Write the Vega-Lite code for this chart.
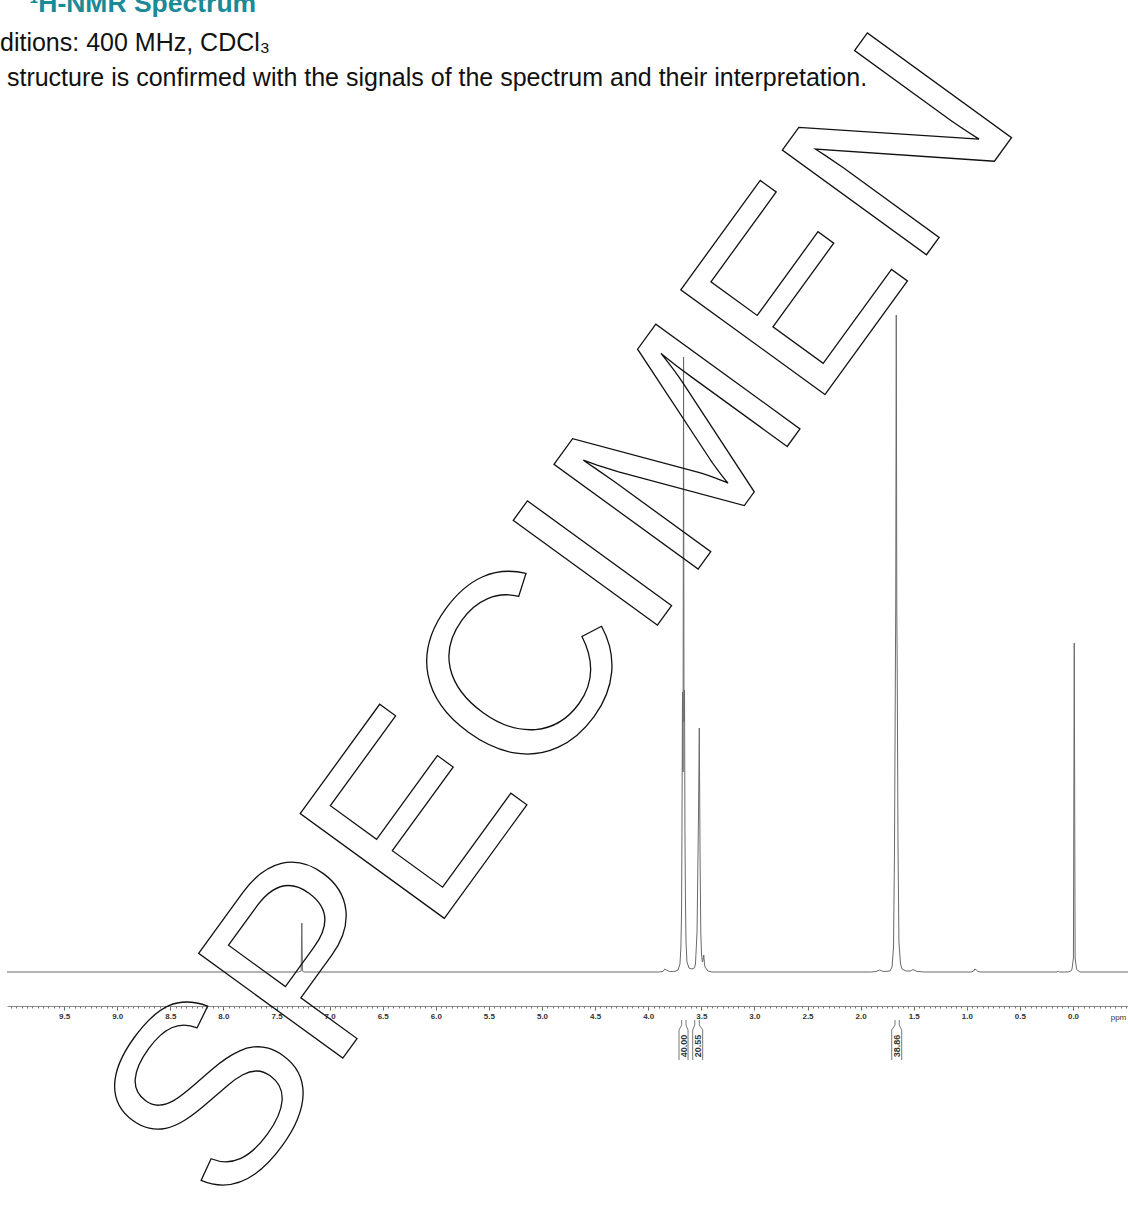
{
  "$schema": "https://vega.github.io/schema/vega-lite/v6.json",
  "autosize": {"type": "none"},
  "padding": {"left": 7, "top": 0, "right": 0, "bottom": 0},
  "width": 1121,
  "height": 1207,
  "background": "white",
  "config": {"view": {"stroke": null}, "font": "Liberation Sans"},
  "title": {
    "text": "\u200b\u00a0\u00a0\u00a0\u00a0¹H-NMR Spectrum",
    "subtitle": ["ditions: 400 MHz, CDCl₃", "\u200b\u00a0structure is confirmed with the signals of the spectrum and their interpretation."],
    "anchor": "start",
    "frame": "group",
    "dx": -7,
    "offset": -91,
    "fontSize": 26.5,
    "fontWeight": "bold",
    "color": "#1a8a96",
    "font": "Liberation Sans",
    "subtitleFontSize": 25,
    "subtitleColor": "#111111",
    "subtitleFont": "Liberation Sans",
    "subtitleLineHeight": 35,
    "subtitlePadding": 14
  },
  "datasets": {
    "spectrum": [
      {"ppm": 10.038, "intensity": 0}, {"ppm": 7.29, "intensity": 0}, {"ppm": 7.268, "intensity": 1}, {"ppm": 7.262, "intensity": 49}, {"ppm": 7.256, "intensity": 1}, {"ppm": 7.24, "intensity": 0},
      {"ppm": 3.9, "intensity": 0}, {"ppm": 3.86, "intensity": 0.5}, {"ppm": 3.845, "intensity": 3}, {"ppm": 3.83, "intensity": 2}, {"ppm": 3.8, "intensity": 0.5}, {"ppm": 3.76, "intensity": 0.5},
      {"ppm": 3.738, "intensity": 1}, {"ppm": 3.719, "intensity": 2}, {"ppm": 3.701, "intensity": 8}, {"ppm": 3.692, "intensity": 25}, {"ppm": 3.686, "intensity": 60}, {"ppm": 3.682, "intensity": 145},
      {"ppm": 3.677, "intensity": 280}, {"ppm": 3.672, "intensity": 200}, {"ppm": 3.667, "intensity": 615}, {"ppm": 3.663, "intensity": 250}, {"ppm": 3.658, "intensity": 282}, {"ppm": 3.654, "intensity": 140},
      {"ppm": 3.649, "intensity": 70}, {"ppm": 3.644, "intensity": 30}, {"ppm": 3.635, "intensity": 10}, {"ppm": 3.616, "intensity": 4}, {"ppm": 3.588, "intensity": 3}, {"ppm": 3.565, "intensity": 4},
      {"ppm": 3.555, "intensity": 8}, {"ppm": 3.54, "intensity": 40}, {"ppm": 3.526, "intensity": 160}, {"ppm": 3.519, "intensity": 244}, {"ppm": 3.512, "intensity": 120}, {"ppm": 3.505, "intensity": 40},
      {"ppm": 3.498, "intensity": 18}, {"ppm": 3.49, "intensity": 10}, {"ppm": 3.484, "intensity": 12}, {"ppm": 3.477, "intensity": 17}, {"ppm": 3.47, "intensity": 8}, {"ppm": 3.465, "intensity": 5},
      {"ppm": 3.437, "intensity": 1}, {"ppm": 3.399, "intensity": 0},
      {"ppm": 1.9, "intensity": 0}, {"ppm": 1.855, "intensity": 0.5}, {"ppm": 1.82, "intensity": 2}, {"ppm": 1.8, "intensity": 1}, {"ppm": 1.78, "intensity": 0.5}, {"ppm": 1.723, "intensity": 1},
      {"ppm": 1.704, "intensity": 5}, {"ppm": 1.69, "intensity": 25}, {"ppm": 1.681, "intensity": 120}, {"ppm": 1.673, "intensity": 290}, {"ppm": 1.669, "intensity": 372}, {"ppm": 1.664, "intensity": 657},
      {"ppm": 1.659, "intensity": 360}, {"ppm": 1.655, "intensity": 300}, {"ppm": 1.648, "intensity": 130}, {"ppm": 1.639, "intensity": 30}, {"ppm": 1.624, "intensity": 8}, {"ppm": 1.61, "intensity": 3},
      {"ppm": 1.572, "intensity": 1}, {"ppm": 1.53, "intensity": 1}, {"ppm": 1.507, "intensity": 2.5}, {"ppm": 1.469, "intensity": 0.5}, {"ppm": 1.394, "intensity": 0},
      {"ppm": 0.96, "intensity": 0}, {"ppm": 0.935, "intensity": 1}, {"ppm": 0.925, "intensity": 3}, {"ppm": 0.91, "intensity": 2}, {"ppm": 0.895, "intensity": 0.5}, {"ppm": 0.87, "intensity": 0},
      {"ppm": 0.15, "intensity": 0}, {"ppm": 0.14, "intensity": 1}, {"ppm": 0.13, "intensity": 0}, {"ppm": 0.047, "intensity": 0}, {"ppm": 0.02, "intensity": 1}, {"ppm": 0.009, "intensity": 3},
      {"ppm": -0.004, "intensity": 14}, {"ppm": -0.012, "intensity": 329}, {"ppm": -0.02, "intensity": 14}, {"ppm": -0.033, "intensity": 3}, {"ppm": -0.05, "intensity": 1}, {"ppm": -0.066, "intensity": 0},
      {"ppm": -0.518, "intensity": 0}
    ],
    "brackets": [
      {"side": "a", "o": 1, "ppm": 3.71, "v": -88}, {"side": "a", "o": 2, "ppm": 3.71, "v": -58}, {"side": "a", "o": 3, "ppm": 3.685, "v": -53}, {"side": "a", "o": 4, "ppm": 3.685, "v": -48},
      {"side": "b", "o": 1, "ppm": 3.625, "v": -88}, {"side": "b", "o": 2, "ppm": 3.625, "v": -58}, {"side": "b", "o": 3, "ppm": 3.644, "v": -53}, {"side": "b", "o": 4, "ppm": 3.644, "v": -48},
      {"side": "c", "o": 1, "ppm": 3.581, "v": -88}, {"side": "c", "o": 2, "ppm": 3.581, "v": -58}, {"side": "c", "o": 3, "ppm": 3.562, "v": -53}, {"side": "c", "o": 4, "ppm": 3.562, "v": -48},
      {"side": "d", "o": 1, "ppm": 3.487, "v": -88}, {"side": "d", "o": 2, "ppm": 3.487, "v": -58}, {"side": "d", "o": 3, "ppm": 3.519, "v": -53}, {"side": "d", "o": 4, "ppm": 3.519, "v": -48},
      {"side": "e", "o": 1, "ppm": 1.707, "v": -88}, {"side": "e", "o": 2, "ppm": 1.707, "v": -58}, {"side": "e", "o": 3, "ppm": 1.676, "v": -53}, {"side": "e", "o": 4, "ppm": 1.676, "v": -48},
      {"side": "f", "o": 1, "ppm": 1.613, "v": -88}, {"side": "f", "o": 2, "ppm": 1.613, "v": -58}, {"side": "f", "o": 3, "ppm": 1.636, "v": -53}, {"side": "f", "o": 4, "ppm": 1.636, "v": -48}
    ],
    "integrals": [
      {"ppm": 3.667, "label": "40.00"},
      {"ppm": 3.534, "label": "20.55"},
      {"ppm": 1.66, "label": "38.86"}
    ]
  },
  "layer": [
    {
      "data": {"name": "spectrum"},
      "mark": {"type": "line", "color": "#6a6a6a", "strokeWidth": 1, "interpolate": "linear"},
      "encoding": {
        "x": {
          "field": "ppm", "type": "quantitative",
          "scale": {"domain": [-0.518, 10.038], "reverse": true, "nice": false, "zero": false},
          "axis": {
            "orient": "bottom", "offset": -201,
            "values": [9.5, 9.0, 8.5, 8.0, 7.5, 7.0, 6.5, 6.0, 5.5, 5.0, 4.5, 4.0, 3.5, 3.0, 2.5, 2.0, 1.5, 1.0, 0.5, 0.0],
            "format": ".1f", "labelFontSize": 8, "labelFontWeight": "bold", "labelColor": "#333333",
            "tickSize": 4, "tickColor": "#666666", "domainColor": "#8a8a8a", "labelPadding": 2,
            "labelOverlap": false, "labelFlush": false, "grid": false,
            "title": "ppm", "titleX": 1111, "titleY": 11, "titleFontSize": 8, "titleFontWeight": "normal",
            "titleAlign": "center", "titleBaseline": "middle", "titleColor": "#333333"
          }
        },
        "y": {
          "field": "intensity", "type": "quantitative",
          "scale": {"domain": [-235, 972], "nice": false, "zero": false},
          "axis": null
        }
      }
    },
    {
      "data": {"name": "brackets"},
      "mark": {"type": "line", "color": "#555555", "strokeWidth": 0.8},
      "encoding": {
        "x": {
          "field": "ppm", "type": "quantitative",
          "axis": {"orient": "bottom", "offset": -201, "tickCount": 211, "labels": false, "domain": false, "tickSize": 2, "tickColor": "#777777", "title": null, "grid": false}
        },
        "y": {"field": "v", "type": "quantitative", "axis": null},
        "detail": {"field": "side"},
        "order": {"field": "o"}
      }
    },
    {
      "data": {"name": "integrals"},
      "mark": {"type": "text", "angle": 270, "fontSize": 9, "fontWeight": "bold", "color": "#333333", "align": "center", "baseline": "middle"},
      "encoding": {
        "x": {"field": "ppm", "type": "quantitative", "axis": null},
        "y": {"datum": -74, "type": "quantitative", "axis": null},
        "text": {"field": "label"}
      }
    },
    {
      "data": {"values": [{"word": "SPECIMEN"}]},
      "mark": {"type": "text", "clip": true, "fontSize": 259, "font": "Liberation Sans", "angle": 306, "align": "center", "baseline": "middle", "fill": "transparent", "stroke": "#111111", "strokeWidth": 1.3},
      "encoding": {
        "x": {"datum": 4.8, "type": "quantitative", "axis": null},
        "y": {"datum": 350, "type": "quantitative", "axis": null},
        "text": {"field": "word"}
      }
    }
  ],
  "resolve": {"axis": {"x": "independent"}}
}
